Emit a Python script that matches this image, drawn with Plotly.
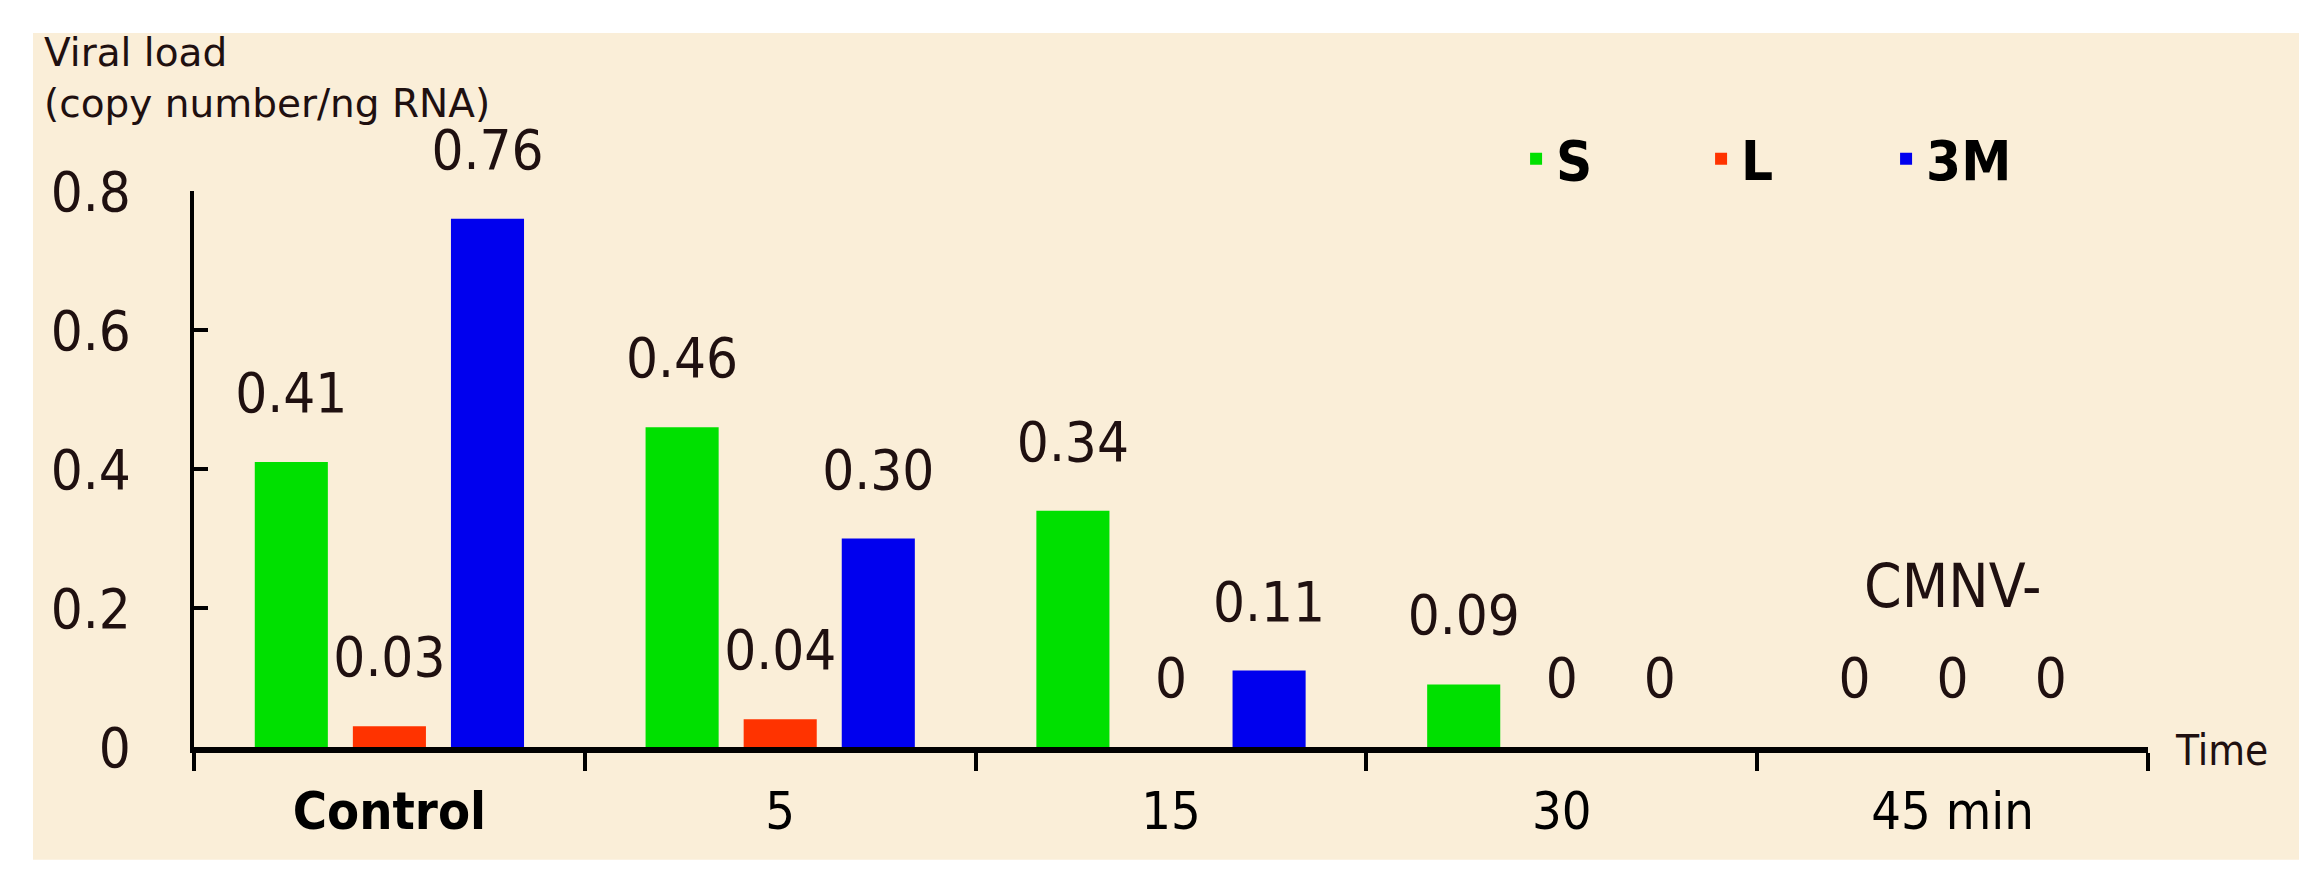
import plotly.graph_objects as go

# Данные
groups = ["Control", "5", "15", "30", "45 min"]
group_labels = ["<b>Control</b>", "5", "15", "30", "45 min"]
s_vals = [0.41, 0.46, 0.34, 0.09, 0]
l_vals = [0.03, 0.04, 0, 0, 0]
m3_vals = [0.76, 0.30, 0.11, 0, 0]
y_ticks = [0, 0.2, 0.4, 0.6, 0.8]
y_tick_text = ["0", "0.2", "0.4", "0.6", "0.8"]

series = [("S", s_vals, "#00E000"), ("L", l_vals, "#FF3300"), ("3M", m3_vals, "#0000EE")]

FONT = "Liberation Sans Narrow, DejaVu Sans Condensed, Open Sans, sans-serif"
TXT = "#1f1010"


def fmt(v):
    return f"{v:.2f}" if v else "0"


fig = go.Figure()
for name, vals, color in series:
    fig.add_trace(go.Bar(
        x=groups, y=vals, name=name, marker_color=color, marker_line_width=0,
        offsetgroup=name, hoverinfo="skip",
    ))
    # подписи значений над столбиками (невидимый маркер задаёт отступ)
    fig.add_trace(go.Scatter(
        x=groups, y=vals, mode="markers+text", offsetgroup=name, showlegend=False,
        marker=dict(size=56, opacity=0), text=[fmt(v) for v in vals],
        textposition="top center", cliponaxis=False, hoverinfo="skip",
        textfont=dict(family=FONT, size=56, color=TXT),
    ))

# кремовая подложка
fig.add_shape(type="rect", xref="paper", yref="paper", x0=-0.0824, x1=1.0773, y0=-0.203, y1=1.284,
              fillcolor="#FAEED8", line_width=0, layer="below")

fig.add_annotation(text="Viral load<br>(copy number/ng RNA)", xref="paper", yref="paper",
                   x=-0.078, y=1.293, xanchor="left", yanchor="top", align="left", showarrow=False,
                   font=dict(family="DejaVu Sans, sans-serif", size=39, color=TXT))
fig.add_annotation(text="Time", xref="paper", yref="paper", x=1.013, y=-0.007, xanchor="left",
                   yanchor="middle", showarrow=False, font=dict(family=FONT, size=42, color=TXT))
fig.add_annotation(text="CMNV-", x="45 min", y=0.232, showarrow=False,
                   font=dict(family=FONT, size=60, color=TXT))

fig.update_layout(
    width=2317, height=888,
    margin=dict(l=186, r=177, t=183, b=149),
    paper_bgcolor="white", plot_bgcolor="rgba(0,0,0,0)",
    barmode="group", bargap=0.247, bargroupgap=0.255,
    scattermode="group", scattergap=0.247,
    legend=dict(orientation="h", x=0.6766, y=1.058, xanchor="left", yanchor="middle",
                entrywidth=140, entrywidthmode="pixels",
                bgcolor="rgba(0,0,0,0)", font=dict(family=FONT, size=56, color="black", weight="bold")),
    font=dict(family=FONT, color=TXT),
)
fig.update_xaxes(type="category", tickvals=groups, ticktext=group_labels, tickson="boundaries",
                 ticks="outside", ticklen=18, tickwidth=4, tickcolor="black", ticklabelstandoff=14,
                 showline=True, linecolor="black", linewidth=6, showgrid=False,
                 tickfont=dict(family=FONT, size=52, color="black"))
fig.update_yaxes(range=[0, 0.8], tickvals=y_ticks, ticktext=y_tick_text,
                 ticks="inside", ticklen=14, tickwidth=4, tickcolor="black",
                 showline=True, linecolor="black", linewidth=4, showgrid=False, zeroline=False,
                 ticklabelstandoff=48, tickfont=dict(family=FONT, size=56, color=TXT))

fig.write_html("out.html")
